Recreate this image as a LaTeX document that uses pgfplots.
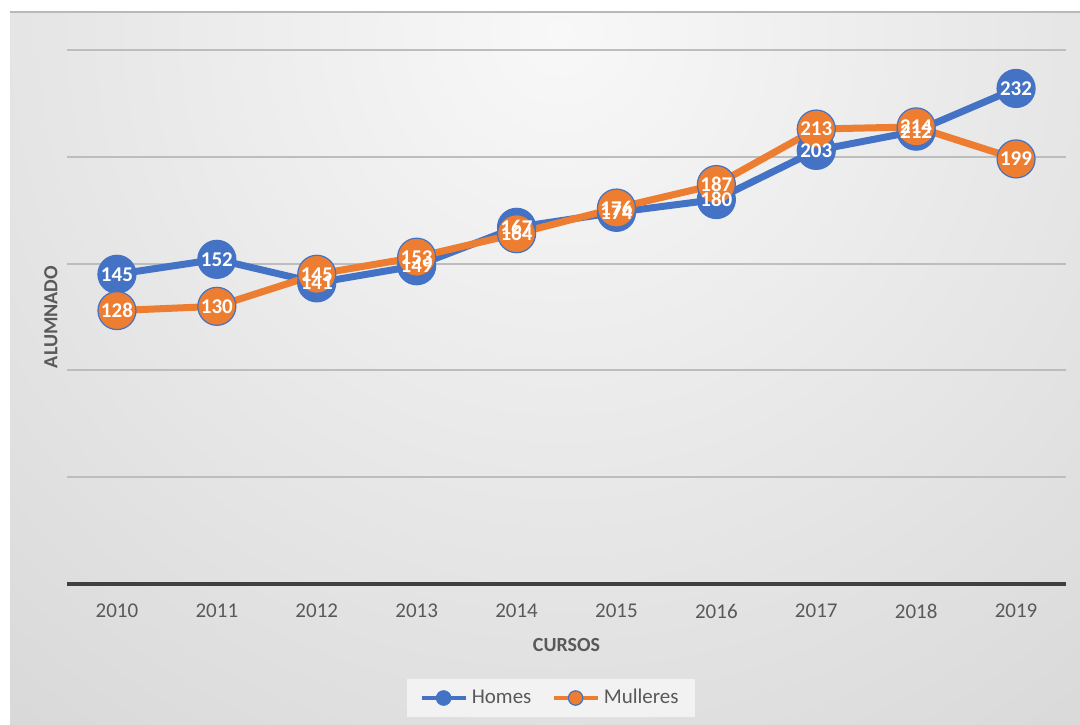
\documentclass[border=0pt]{standalone}
\usepackage{fontspec}
\setmainfont{Carlito}
\usepackage{pgfplots}
\pgfplotsset{compat=1.18}
\definecolor{blu}{HTML}{4472C4}
\definecolor{ora}{HTML}{ED7D31}
\definecolor{txt}{HTML}{595959}
\definecolor{bgin}{HTML}{F8F8F8}
\definecolor{bgout}{HTML}{CCCCCC}
\definecolor{gridc}{HTML}{BDBDBD}
\definecolor{axc}{HTML}{404040}

\begin{document}
\begin{tikzpicture}
\path[use as bounding box] (0,0) rectangle (540pt,362pt);
\fill[white] (0,0) rectangle (540pt,362pt);
\begin{scope}
  \clip (5pt,0) rectangle (540pt,356pt);
  \fill[bgout] (5pt,0) rectangle (540pt,356pt);
  \shade[inner color=bgin, outer color=bgout] (280pt,345pt) circle (620pt);
\end{scope}
\draw[gray!55, line width=0.8pt] (5pt,356pt) -- (540pt,356pt);

\begin{axis}[
    at={(33.5pt,70pt)}, anchor=south west,
    scale only axis,
    width=499.5pt, height=267pt,
    xmin=-0.5, xmax=9.5,
    ymin=0, ymax=250,
    xtick={0,...,9},
    xticklabels={2010,2011,2012,2013,2014,2015,2016,2017,2018,2019},
    ytick={50,100,150,200,250},
    yticklabels={},
    ymajorgrids,
    major grid style={draw=gridc, line width=1pt},
    axis line style={draw=none},
    tick style={draw=none},
    /pgf/number format/assume math mode=true,
    tick label style={font=\fontsize{10.5}{12}\selectfont, text=txt},
    xticklabel style={yshift=-6.5pt},
    xlabel={CURSOS},
    ylabel={ALUMNADO},
    label style={font=\fontsize{10}{12}\selectfont\bfseries, text=txt},
    xlabel style={at={(axis description cs:0.5,-0.1142)}, anchor=center},
    ylabel style={at={(axis description cs:-0.016,0.5)}, anchor=center},
    clip=false,
    legend columns=2,
    legend style={at={(axis description cs:0.4845,-0.2135)}, anchor=center,
        fill=white!90!gray, draw=none, font=\fontsize{10.5}{12}\selectfont,
        text=txt, inner xsep=6pt, inner ysep=3pt,
        /tikz/every even column/.append style={column sep=8pt}},
    legend image code/.code={
        \draw[mark repeat=2,mark phase=2,#1,line width=2.2pt,mark size=3.6pt]
        plot coordinates {(0pt,0pt) (11pt,0pt) (22pt,0pt)};},
]
\draw[axc, line width=2pt] (axis cs:-0.5,0) -- (axis cs:9.5,0);

\addplot[blu, line width=3.5pt, line join=round, mark=*, mark size=9.5pt,
    mark options={fill=blu, draw=blu, line width=0.6pt}] coordinates {
    (0,145) (1,152) (2,141) (3,149) (4,167) (5,174) (6,180) (7,203) (8,212) (9,232)
};
\addlegendentry{Homes}
\addplot[ora, line width=3.5pt, line join=round, mark=*, mark size=9.5pt,
    mark options={fill=ora, draw=blu, line width=0.6pt}] coordinates {
    (0,128) (1,130) (2,145) (3,153) (4,164) (5,176) (6,187) (7,213) (8,214) (9,199)
};
\addlegendentry{Mulleres}

\addplot[draw=none, forget plot, nodes near coords, point meta=y,
    every node near coord/.append style={anchor=center, text=white,
        font=\fontsize{10.5}{12}\selectfont\bfseries}] coordinates {
    (0,145) (1,152) (2,141) (3,149) (4,167) (5,174) (6,180) (7,203) (8,212) (9,232)
};
\addplot[draw=none, forget plot, nodes near coords, point meta=y,
    every node near coord/.append style={anchor=center, text=white,
        font=\fontsize{10.5}{12}\selectfont\bfseries}] coordinates {
    (0,128) (1,130) (2,145) (3,153) (4,164) (5,176) (6,187) (7,213) (8,214) (9,199)
};
\end{axis}
\end{tikzpicture}
\end{document}
